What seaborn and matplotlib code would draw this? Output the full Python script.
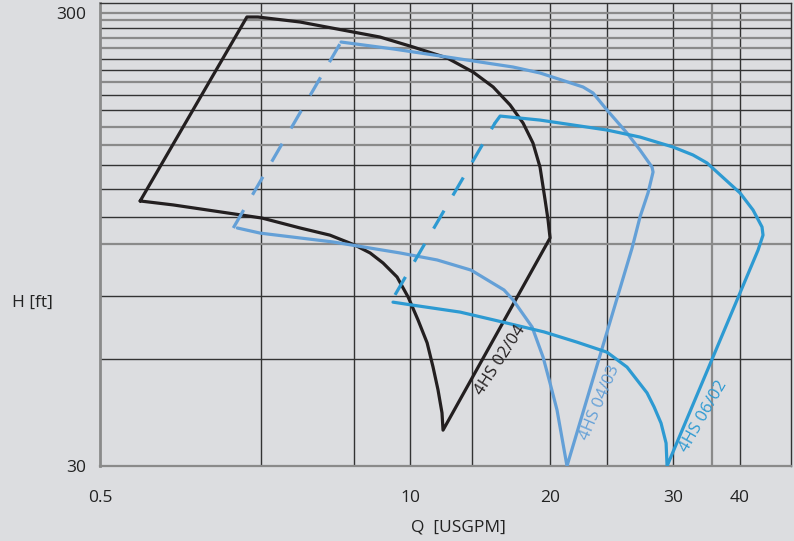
import matplotlib
matplotlib.use("Agg")
import matplotlib.pyplot as plt
import seaborn as sns
import pandas as pd

# Pump curves: Q [USGPM], H [ft]
q_0204 = [3.23, 5.05, 5.29, 6.31, 7.88, 8.82, 10.13, 11.68, 13.02, 14.16, 15.20, 16.05, 16.73, 17.23,
          17.60, 17.82, 17.97, 11.48, 11.43, 11.24, 11.01, 10.74, 10.34, 9.92, 9.47, 8.93, 8.46, 7.94,
          7.15, 6.31, 5.38, 3.71, 3.23]
h_0204 = [115.4, 294.0, 294.0, 286.6, 272.4, 265.5, 252.4, 238.7, 222.2, 206.0, 188.0, 171.5, 154.9, 137.1,
          116.0, 104.8, 95.6, 36.0, 39.3, 44.2, 49.6, 56.1, 63.0, 70.8, 78.4, 84.2, 88.6, 92.2,
          97.0, 100.6, 105.8, 113.1, 115.4]

q_0403 = [7.49, 9.35, 11.68, 15.39, 17.23, 20.63, 21.51, 22.81, 24.80, 26.19, 27.54, 27.66, 27.08, 26.19,
          25.33, 19.29, 18.50, 17.97, 17.45, 16.67, 15.39, 14.82, 12.91, 11.2, 9.59, 7.24, 5.34, 4.85]
h_0403 = [258.9, 249.8, 239.9, 228.0, 221.2, 206.0, 199.8, 183.2, 163.0, 149.5, 137.1, 133.7, 120.2, 106.4,
          90.8, 30.0, 39.9, 45.7, 52.2, 60.8, 69.8, 73.4, 81.2, 85.5, 88.6, 93.7, 98.0, 100.6]
q_0403_dash = [4.77, 7.49]
h_0403_dash = [100.6, 258.9]

q_0602 = [14.27, 14.58, 17.23, 22.81, 26.19, 30.08, 32.69, 34.67, 39.81, 42.04, 43.65, 43.83, 42.93, 29.33,
          29.21, 28.60, 27.78, 26.97, 24.80, 22.81, 20.12, 17.53, 14.22, 12.33, 10.08, 9.31]
h_0602 = [171.5, 177.7, 174.1, 165.5, 159.7, 151.8, 145.8, 140.0, 120.2, 110.2, 101.1, 97.0, 89.9, 30.0,
          33.7, 37.3, 40.5, 43.5, 49.6, 53.5, 56.3, 59.3, 63.0, 65.6, 68.0, 69.0]
q_0602_dash = [9.39, 14.27]
h_0602_dash = [71.6, 171.5]

pump_names = ["4HS 02/04", "4HS 04/03", "4HS 06/02"]
pump_colors = ["#231f20", "#64a0d7", "#2d9ad2"]

# grid of the chart
grid_q_dark = [5.36, 7.91, 10.0, 12.96, 17.97, 22.81, 30.08, 39.81]
grid_q_grey = [35.40]
grid_h_dark = [278.0, 237.4, 224.5, 197.8, 183.2, 138.5, 122.6, 106.4, 71.2, 51.7]
grid_h_grey = [300.0, 289.5, 264.2, 251.1, 211.3, 168.1, 153.4, 92.7]

q_min, q_max = 2.73, 49.28
h_min, h_max = 30.0, 315.7
x_tick_labels = {2.73: "0.5", 10.0: "10", 17.97: "20", 30.08: "30", 39.81: "40"}
y_tick_labels = {300.0: "300", 30.0: "30"}

bg = "#dcdde0"
dark = "#333333"
grey = "#8a8a8a"

sns.set_style("white")
plt.rcParams["font.family"] = ["Open Sans", "DejaVu Sans"]

fig = plt.figure(figsize=(7.94, 5.41), dpi=100, facecolor=bg)
ax = fig.add_axes([100 / 794, 75 / 541, 691 / 794, 463 / 541])
ax.set_facecolor(bg)
ax.set_xscale("log")
ax.set_yscale("log")
ax.set_xlim(q_min, q_max)
ax.set_ylim(h_min, h_max)

for q in grid_q_dark:
    ax.axvline(q, color=dark, lw=1.0, zorder=1)
for q in grid_q_grey:
    ax.axvline(q, color=grey, lw=1.6, zorder=1)
for h in grid_h_dark:
    ax.axhline(h, color=dark, lw=1.0, zorder=1)
for h in grid_h_grey:
    ax.axhline(h, color=grey, lw=1.6, zorder=1)

# ticks at every grid line, only a few labelled
xt = sorted([q_min] + grid_q_dark + grid_q_grey + [q_max])
ax.set_xticks(xt)
ax.set_xticklabels([x_tick_labels.get(q, "") for q in xt])
yt = sorted([h_min] + grid_h_dark + grid_h_grey)
ax.set_yticks(yt)
ax.set_yticklabels([y_tick_labels.get(h, "") for h in yt])
ax.minorticks_off()
ax.tick_params(axis="x", length=4, width=1, color=dark, pad=13, labelsize=12.5, labelcolor="#222222")
ax.tick_params(axis="y", length=4, width=1, color=dark, pad=6, labelsize=12.5, labelcolor="#222222")

for side in ["top", "right"]:
    ax.spines[side].set_color(dark)
    ax.spines[side].set_linewidth(1.0)
ax.spines["left"].set_color(grey)
ax.spines["left"].set_linewidth(2.0)
ax.spines["bottom"].set_color(grey)
ax.spines["bottom"].set_linewidth(1.6)

curves = [
    (q_0204, h_0204, None, None),
    (q_0403, h_0403, q_0403_dash, h_0403_dash),
    (q_0602, h_0602, q_0602_dash, h_0602_dash),
]
for (qs, hs, qd, hd), color in zip(curves, pump_colors):
    df = pd.DataFrame({"Q": qs, "H": hs})
    sns.lineplot(data=df, x="Q", y="H", sort=False, estimator=None, color=color, lw=2.3, ax=ax, zorder=3,
                 solid_joinstyle="round")
    if qd is not None:
        ax.plot(qd, hd, color=color, lw=2.3, dashes=(6.5, 5.5), zorder=3)

# curve names written along the rising flank
label_pos = [(14.6, 51.4, 57), (22.15, 41.3, 67), (34.23, 38.6, 60)]
for name, color, (q, h, rot) in zip(pump_names, pump_colors, label_pos):
    ax.text(q, h, name, color=color, fontsize=12, rotation=rot, rotation_mode="anchor",
            ha="center", va="center", zorder=4)

ax.set_xlabel("")
ax.set_ylabel("")
fig.text(458 / 794, 1 - 527 / 541, "Q  [USGPM]", ha="center", va="center", fontsize=12.5, color="#222222")
fig.text(12 / 794, 1 - 303 / 541, "H [ft]", ha="left", va="center", fontsize=12.5, color="#222222")

fig.savefig("out.png", dpi=100, facecolor=bg)
